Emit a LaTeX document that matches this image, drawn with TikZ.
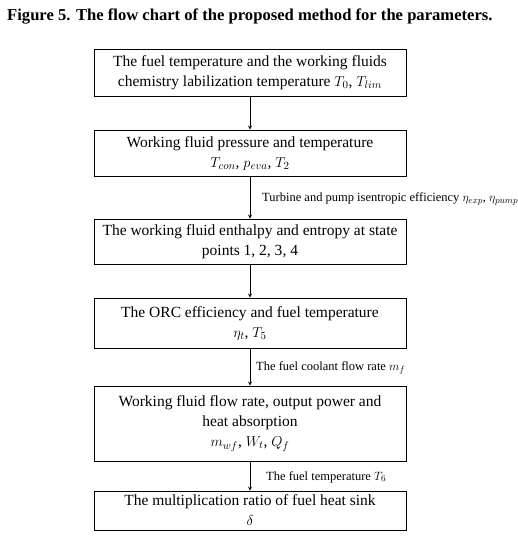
\documentclass[tikz,border=0pt]{standalone}
\usepackage{fontspec}
\setmainfont{Liberation Serif}
\usetikzlibrary{arrows}
\tikzset{
	stagebox/.style={rectangle, draw=black, line width=0.8pt, minimum width=312pt, inner xsep=1pt, inner ysep=2pt, align=center, font=\fontsize{15.5}{20}\selectfont},
	ratelabel/.style={anchor=west, inner sep=0pt, font=\fontsize{12.5}{14}\selectfont},
	flowarrow/.style={-stealth, line width=0.8pt}
}

\begin{document}
\begin{tikzpicture}[x=1pt,y=1pt]
	\useasboundingbox (0,0) rectangle (518,-540);
	\node[anchor=west, inner sep=0pt, font=\bfseries\fontsize{16.6}{18}\selectfont] (title) at (7,-16) {Figure 5. The flow chart of the proposed method for the parameters.};
	
	\node[stagebox, minimum height=47pt] (fuel) at (250,-72.5) {The fuel temperature and the working fluids\\ chemistry labilization temperature $T_0$, $T_{lim}$};
	\node[stagebox, minimum height=46pt] (press) at (250,-153) {Working fluid pressure and temperature\\ $T_{con}$, $p_{eva}$, $T_2$};
	\node[stagebox, minimum height=45pt] (state) at (250,-241.5) {The working fluid enthalpy and entropy at state\\ points 1, 2, 3, 4};
	\node[stagebox, minimum height=50pt] (orc) at (250,-323) {The ORC efficiency and fuel temperature\\ $\eta_t$, $T_5$};
	\node[stagebox, minimum height=75pt] (flow) at (250,-423.5) {Working fluid flow rate, output power and\\ heat absorption\\ $m_{wf}$, $W_t$, $Q_f$};
	\node[stagebox, minimum height=39pt] (sink) at (250,-510.5) {The multiplication ratio of fuel heat sink\\ $\delta$};
	
	\draw[flowarrow] (fuel) -- (press);
	\draw[flowarrow] (press) -- (state);
	\draw[flowarrow] (state) -- (orc);
	\draw[flowarrow] (orc) -- (flow);
	\draw[flowarrow] (flow) -- (sink);
	
	\node[ratelabel] (eff) at (262,-199) {Turbine and pump isentropic efficiency $\eta_{exp}$, $\eta_{pump}$};
	\node[ratelabel] (coolant) at (256,-368) {The fuel coolant flow rate $m_f$};
	\node[ratelabel] (outtemp) at (266,-477) {The fuel temperature $T_6$};
\end{tikzpicture}
\end{document}
